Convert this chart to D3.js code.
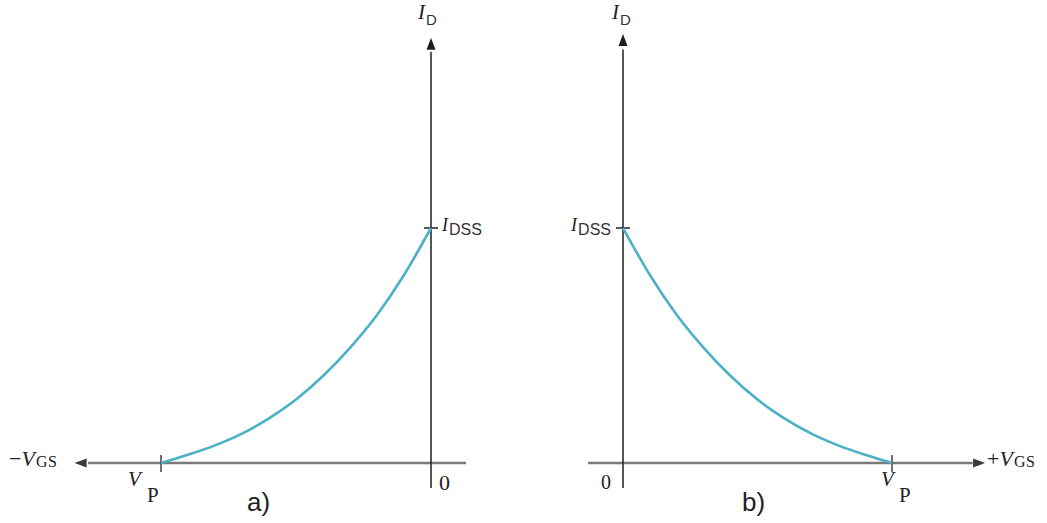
<!DOCTYPE html>
<html>
<head>
<meta charset="utf-8">
<script src="https://cdn.jsdelivr.net/npm/d3@7"></script>
<style>
  html, body { margin: 0; padding: 0; background: #fff; }
  svg { display: block; }
  .serif { font-family: "Liberation Serif", "DejaVu Serif", serif; fill: #222; }
  .sans { font-family: "Liberation Sans", "DejaVu Sans", sans-serif; fill: #333; }
</style>
</head>
<body>
<svg id="chart" width="1047" height="523"></svg>
<script>
// Transfer characteristic of a JFET: drain current vs gate-source voltage,
// normalised to I_DSS and |V_P|.
const vgsNorm = [0, 0.1, 0.2, 0.3, 0.4, 0.5, 0.6, 0.7, 0.8, 0.9, 1.0];   // |V_GS| / |V_P|
const idNorm  = [1.0, 0.8, 0.63, 0.49, 0.37, 0.27, 0.19, 0.125, 0.075, 0.035, 0]; // I_D / I_DSS
const panelLabels = ["a)", "b)"];

const svg = d3.select("#chart");
const curveColor = "#4ab1c6";
const axisDark = "#1e1e1e";
const axisGrey = "#7a7a7a";

// Shared current scale (0 .. I_DSS)
const y = d3.scaleLinear().domain([0, 1]).range([463, 228]);

// Panel a: negative V_GS (Vp .. 0), panel b: positive V_GS (0 .. Vp)
const xa = d3.scaleLinear().domain([-1, 0]).range([161, 431]);
const xb = d3.scaleLinear().domain([0, 1]).range([623, 892]);

const line = (x, sign) => d3.line()
  .x((d, i) => x(sign * vgsNorm[i]))
  .y(d => y(d))
  .curve(d3.curveMonotoneX);

function arrowHead(g, x0, y0, dir) {
  const L = 12, W = 4.5;
  let pts;
  if (dir === "up") pts = [[x0, y0], [x0 - W, y0 + L], [x0 + W, y0 + L]];
  else if (dir === "left") pts = [[x0, y0], [x0 + L, y0 - W], [x0 + L, y0 + W]];
  else pts = [[x0, y0], [x0 - L, y0 - W], [x0 - L, y0 + W]];
  g.append("path").attr("d", "M" + pts.join("L") + "Z").attr("fill", dir === "up" ? axisDark : "#3a3a3a");
}

function sub(g, x, yb, main, subTxt, opts) {
  const t = g.append("text").attr("x", x).attr("y", yb).attr("text-anchor", opts.anchor || "start");
  if (opts.prefix) t.append("tspan").attr("class", "serif").style("font-size", opts.size + "px").text(opts.prefix);
  t.append("tspan").attr("class", "serif").style("font-style", "italic").style("font-size", opts.size + "px").text(main);
  t.append("tspan").attr("class", opts.subClass || "sans")
    .attr("dy", opts.subDy).attr("dx", opts.subDx || 0)
    .style("font-size", opts.subSize + "px")
    .style("letter-spacing", opts.ls || "0px")
    .text(subTxt);
  return t;
}

// ---------- Panel a ----------
const ga = svg.append("g");
ga.append("line").attr("x1", xa(-1.27)).attr("x2", xa(0.13)).attr("y1", y(0)).attr("y2", y(0))
  .attr("stroke", axisGrey).attr("stroke-width", 2.4);
arrowHead(ga, xa(-1.32), y(0), "left");
ga.append("line").attr("x1", xa(0)).attr("x2", xa(0)).attr("y1", y(-0.106)).attr("y2", y(1.75))
  .attr("stroke", axisDark).attr("stroke-width", 1.5);
arrowHead(ga, xa(0), y(1.81), "up");
ga.append("line").attr("x1", xa(0) - 7).attr("x2", xa(0) + 7).attr("y1", y(1)).attr("y2", y(1))
  .attr("stroke", axisDark).attr("stroke-width", 1.5);
ga.append("line").attr("x1", xa(-1)).attr("x2", xa(-1)).attr("y1", y(0) - 8).attr("y2", y(0) + 9)
  .attr("stroke", "#444").attr("stroke-width", 1.5);
ga.append("path").datum(idNorm).attr("d", line(xa, -1))
  .attr("fill", "none").attr("stroke", curveColor).attr("stroke-width", 2.6);

sub(ga, 418, 19, "I", "D", {size: 21, subSize: 15, subDy: 6, subDx: 1});
sub(ga, 442, 231, "I", "DSS", {size: 18, subSize: 16, subDy: 4, subDx: 1});
sub(ga, 9, 466, "V", "GS", {size: 22, subSize: 16, subDy: 1, subDx: 1, prefix: "\u2212", subClass: "serif", ls: "0.5px"});
const vpA = ga.append("g");
vpA.append("text").attr("class", "serif").attr("x", 128).attr("y", 486).style("font-style", "italic").style("font-size", "21px").text("V");
vpA.append("text").attr("class", "serif").attr("x", 147).attr("y", 502).style("font-size", "21px").text("P");
ga.append("text").attr("class", "serif").attr("x", 439).attr("y", 490).style("font-size", "22px").text("0");
ga.append("text").attr("class", "sans").attr("x", 247).attr("y", 511).style("font-size", "26px").style("fill", "#222").text(panelLabels[0]);

// ---------- Panel b ----------
const gb = svg.append("g");
gb.append("line").attr("x1", xb(-0.13)).attr("x2", xb(1.30)).attr("y1", y(0)).attr("y2", y(0))
  .attr("stroke", axisGrey).attr("stroke-width", 2.4);
arrowHead(gb, xb(1.346), y(0), "right");
gb.append("line").attr("x1", xb(0)).attr("x2", xb(0)).attr("y1", y(-0.106)).attr("y2", y(1.76))
  .attr("stroke", axisDark).attr("stroke-width", 1.5);
arrowHead(gb, xb(0), y(1.826), "up");
gb.append("line").attr("x1", xb(0) - 7).attr("x2", xb(0) + 7).attr("y1", y(1)).attr("y2", y(1))
  .attr("stroke", axisDark).attr("stroke-width", 1.5);
gb.append("line").attr("x1", xb(1)).attr("x2", xb(1)).attr("y1", y(0) - 8).attr("y2", y(0) + 9)
  .attr("stroke", "#444").attr("stroke-width", 1.5);
gb.append("path").datum(idNorm).attr("d", line(xb, 1))
  .attr("fill", "none").attr("stroke", curveColor).attr("stroke-width", 2.6);

sub(gb, 612, 19, "I", "D", {size: 21, subSize: 15, subDy: 6, subDx: 1});
sub(gb, 611, 231, "I", "DSS", {size: 18, subSize: 16, subDy: 4, subDx: 1, anchor: "end"});
sub(gb, 987, 466, "V", "GS", {size: 22, subSize: 16, subDy: 1, subDx: 1, prefix: "+", subClass: "serif", ls: "0.5px"});
const vpB = gb.append("g");
vpB.append("text").attr("class", "serif").attr("x", 881).attr("y", 486).style("font-style", "italic").style("font-size", "21px").text("V");
vpB.append("text").attr("class", "serif").attr("x", 899).attr("y", 502).style("font-size", "21px").text("P");
gb.append("text").attr("class", "serif").attr("x", 601).attr("y", 489).style("font-size", "20px").text("0");
gb.append("text").attr("class", "sans").attr("x", 742).attr("y", 511).style("font-size", "26px").style("fill", "#222").text(panelLabels[1]);
</script>
</body>
</html>
